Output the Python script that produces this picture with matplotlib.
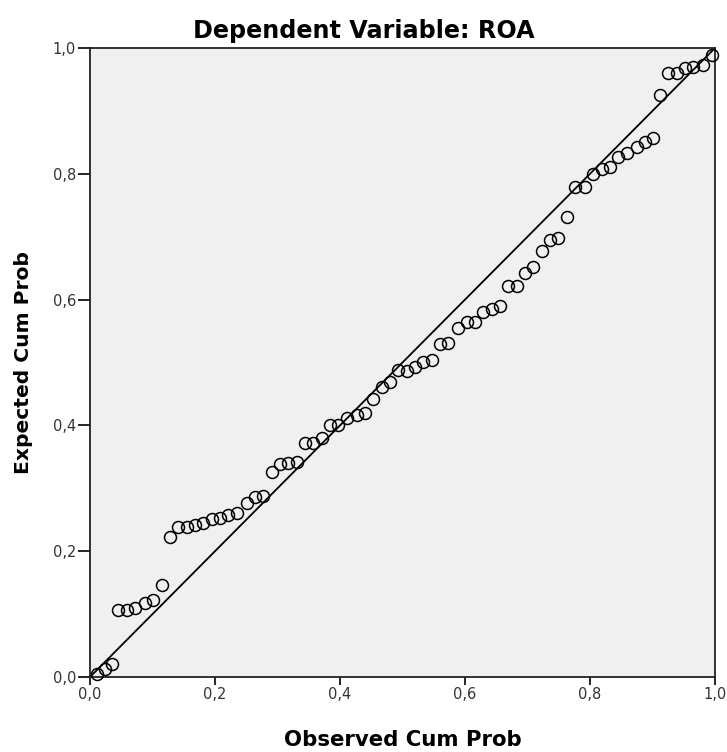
import matplotlib
matplotlib.use("Agg")
import matplotlib.pyplot as plt
from matplotlib.ticker import FixedLocator, FuncFormatter

# observed cumulative probability (x) and expected cumulative probability (y)
observed = [0.011, 0.024, 0.035,
            0.045, 0.059, 0.072, 0.088, 0.101, 0.115,
            0.128, 0.141, 0.155, 0.168, 0.181, 0.195, 0.208, 0.221, 0.235, 0.251, 0.264, 0.277,
            0.291, 0.304, 0.317, 0.331,
            0.344, 0.357, 0.371, 0.384, 0.397, 0.411, 0.427, 0.440, 0.453, 0.467, 0.480,
            0.493, 0.507, 0.520, 0.533, 0.547, 0.560, 0.573, 0.589, 0.603, 0.616,
            0.629, 0.643, 0.656, 0.669, 0.683, 0.696, 0.709, 0.723, 0.736, 0.749, 0.763,
            0.776, 0.792,
            0.805, 0.819, 0.832,
            0.845, 0.859, 0.875, 0.888, 0.901,
            0.912, 0.925, 0.939, 0.952, 0.965, 0.981, 0.995]
expected = [0.005, 0.012, 0.020,
            0.107, 0.107, 0.110, 0.118, 0.122, 0.146,
            0.223, 0.238, 0.238, 0.242, 0.245, 0.251, 0.253, 0.258, 0.261, 0.277, 0.286, 0.288,
            0.326, 0.339, 0.340, 0.342,
            0.372, 0.372, 0.380, 0.401, 0.401, 0.412, 0.417, 0.420, 0.442, 0.461, 0.469,
            0.488, 0.487, 0.493, 0.501, 0.504, 0.529, 0.531, 0.555, 0.564, 0.564,
            0.580, 0.585, 0.590, 0.622, 0.622, 0.642, 0.652, 0.677, 0.695, 0.698, 0.731,
            0.779, 0.779,
            0.800, 0.808, 0.811,
            0.827, 0.833, 0.843, 0.851, 0.857,
            0.925, 0.960, 0.960, 0.968, 0.970, 0.973, 0.989]
ticks = [0.0, 0.2, 0.4, 0.6, 0.8, 1.0]

fig = plt.figure(figsize=(7.27, 7.52), dpi=100)
ax = fig.add_axes([90 / 727, 75 / 752, 625 / 727, 629 / 752])
ax.set_facecolor("#f0f0f0")

ax.plot([0, 1], [0, 1], color="black", linewidth=1.3, zorder=2)
ax.plot(observed, expected, linestyle="none", marker="o", markersize=8.6,
        markerfacecolor="none", markeredgecolor="black", markeredgewidth=1.1,
        zorder=3, clip_on=False)

ax.set_xlim(0, 1)
ax.set_ylim(0, 1)
ax.xaxis.set_major_locator(FixedLocator(ticks))
ax.yaxis.set_major_locator(FixedLocator(ticks))
fmt = FuncFormatter(lambda v, p: ("%.1f" % v).replace(".", ","))
ax.xaxis.set_major_formatter(fmt)
ax.yaxis.set_major_formatter(fmt)
ax.tick_params(direction="out", width=1.2, labelsize=10.5,
               labelcolor="#333333", pad=1)
ax.tick_params(axis="x", length=6)
ax.tick_params(axis="y", length=9)
for s in ax.spines.values():
    s.set_linewidth(1.3)
    s.set_color("#222222")

# title is centred on the whole figure, not on the axes
fig.text(0.5, 1 - 38 / 752, "Dependent Variable: ROA", fontsize=17.2,
         fontweight="bold", ha="center", va="baseline")
ax.set_xlabel("Observed Cum Prob", fontsize=15.3, fontweight="bold", labelpad=20)
ax.set_ylabel("Expected Cum Prob", fontsize=14.6, fontweight="bold", labelpad=14)

fig.savefig("out.png", dpi=100, facecolor="white")
